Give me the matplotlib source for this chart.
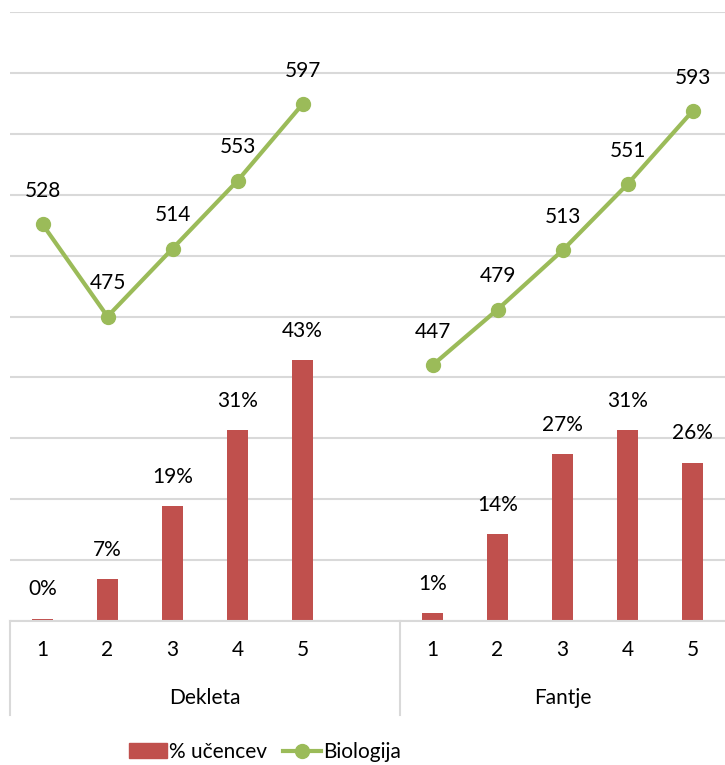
import matplotlib
matplotlib.use("Agg")
import matplotlib.pyplot as plt
import matplotlib.transforms as mtransforms
from matplotlib.patches import Patch
from matplotlib.lines import Line2D
import numpy as np

plt.rcParams['font.family'] = ['Lato', 'DejaVu Sans']

groups = ["Dekleta", "Fantje"]
grades = ["1", "2", "3", "4", "5"]
pct_dekleta = [0.4, 6.9, 18.9, 31.4, 42.9]
pct_fantje = [1.3, 14.3, 27.4, 31.4, 26.0]
pct_labels_dekleta = ["0%", "7%", "19%", "31%", "43%"]
pct_labels_fantje = ["1%", "14%", "27%", "31%", "26%"]
bio_dekleta = [528, 475, 514, 553, 597]
bio_fantje = [447, 479, 513, 551, 593]

bar_color = "#c0504d"
line_color = "#9bbb59"
grid_color = "#d9d9d9"
fs = 15

fig = plt.figure(figsize=(7.25, 7.65), dpi=100)
ax = fig.add_axes([10/725, 1-621/765, 715/725, 609/765])

# positions: Dekleta slots 0-4, empty slot 5, Fantje slots 6-10
x_dek = np.arange(5)
x_fan = np.arange(5) + 6

ax.bar(x_dek, pct_dekleta, width=0.31, color=bar_color, zorder=2)
ax.bar(x_fan, pct_fantje, width=0.31, color=bar_color, zorder=2)
for xs, vals, labs in [(x_dek, pct_dekleta, pct_labels_dekleta), (x_fan, pct_fantje, pct_labels_fantje)]:
    for x, v, l in zip(xs, vals, labs):
        ax.annotate(l, (x, v), xytext=(0, 21), textcoords="offset points",
                    ha="center", va="center", fontsize=fs, color="#000000")

ax.set_xlim(-0.5, 10.5)
ax.set_ylim(0, 100)
ax.set_yticks(np.arange(0, 101, 10))
ax.yaxis.grid(True, color=grid_color, linewidth=1.5)
ax.set_axisbelow(True)
for s in ["top", "left", "right"]:
    ax.spines[s].set_visible(False)
ax.spines["bottom"].set_color(grid_color)
ax.spines["bottom"].set_linewidth(1.5)

ax2 = ax.twinx()
ax2.set_ylim(300, 650)
ax.tick_params(axis="both", which="both", length=0, labelleft=False, labelright=False,
               labelbottom=False)
ax2.tick_params(axis="both", which="both", length=0, labelleft=False, labelright=False,
                labelbottom=False)
for s in ax2.spines.values():
    s.set_visible(False)
x_line = list(x_dek) + [5] + list(x_fan)
y_line = bio_dekleta + [np.nan] + bio_fantje
ax2.plot(x_line, y_line, color=line_color, linewidth=3, marker="o",
         markersize=10, zorder=3, label="Biologija")
for x, v in zip(x_line, y_line):
    if np.isnan(v):
        continue
    ax2.annotate(f"{v:.0f}", (x, v), xytext=(0, 24), textcoords="offset points",
                 ha="center", va="center", fontsize=fs, color="#000000")

# category axis labels
trans = mtransforms.blended_transform_factory(ax.transData, ax.transAxes)
for xs in (x_dek, x_fan):
    for x, g in zip(xs, grades):
        ax.text(x, -0.0476, g, transform=trans, ha="center", va="center", fontsize=fs)
ax.text(2.5, -0.126, groups[0], transform=trans, ha="center", va="center", fontsize=fs)
ax.text(8.0, -0.126, groups[1], transform=trans, ha="center", va="center", fontsize=fs)
for xb in (-0.5, 5.5):
    ax.plot([xb, xb], [0, -0.154], transform=trans, color=grid_color,
            linewidth=1.5, clip_on=False)

handles = [Patch(color=bar_color, label="% učencev"),
           Line2D([0], [0], color=line_color, linewidth=3, marker="o", markersize=10, label="Biologija")]
fig.legend(handles=handles, loc="center", bbox_to_anchor=(265/725, 1-752/765),
           ncol=2, frameon=False, fontsize=15, handlelength=1.8, handletextpad=0.1,
           columnspacing=0.8, handleheight=0.7)

fig.savefig("out.png", dpi=100)
